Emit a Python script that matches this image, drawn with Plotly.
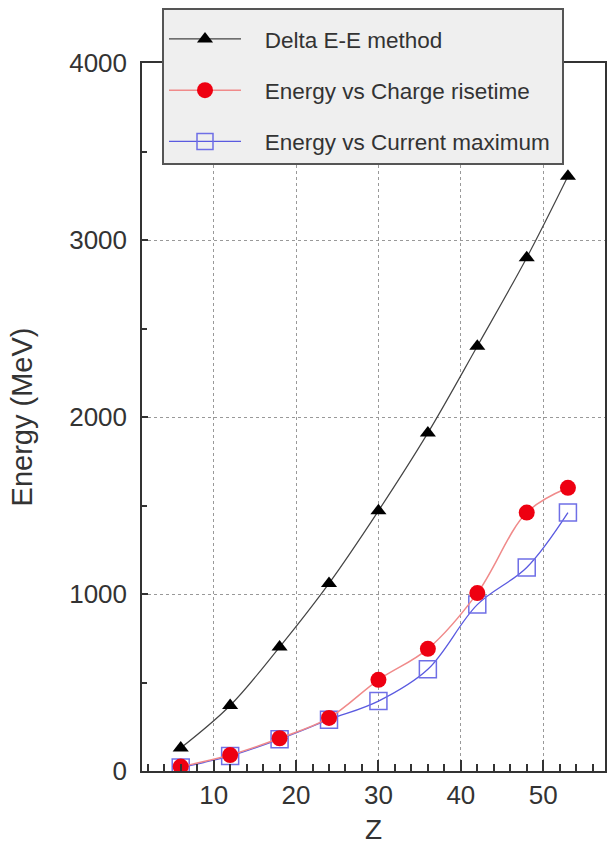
import plotly.graph_objects as go

z_vals = [6, 12, 18, 24, 30, 36, 42, 48, 53]
delta_e = [130, 370, 700, 1060, 1470, 1910, 2400, 2900, 3360]
charge_rise = [25, 90, 185, 300, 515, 690, 1005, 1460, 1600]
current_max = [20, 85, 180, 290, 395, 575, 940, 1150, 1460]

x_ticks = [10, 20, 30, 40, 50]
y_ticks = [0, 1000, 2000, 3000, 4000]

FONT = "Liberation Sans, Arial, sans-serif"
PAD = "\u00a0\u00a0\u00a0"

fig = go.Figure()
fig.add_trace(go.Scatter(
    x=z_vals, y=delta_e, name=PAD + "Delta E-E method", mode="lines+markers",
    line=dict(color="#444444", width=1.2, shape="spline"),
    marker=dict(symbol="triangle-up", size=14, color="black"),
    legendrank=1, legendgroup="a"))
fig.add_trace(go.Scatter(
    x=z_vals, y=current_max, name=PAD + "Energy vs Current maximum\u00a0", mode="lines+markers",
    line=dict(color="#5a5ae0", width=1.3, shape="spline"),
    marker=dict(symbol="square-open", size=17, color="#6f6fe6", line=dict(width=1.5)),
    legendrank=3, legendgroup="c"))
fig.add_trace(go.Scatter(
    x=z_vals, y=charge_rise, name=PAD + "Energy vs Charge risetime", mode="lines+markers",
    line=dict(color="#f08a8a", width=1.5, shape="spline"),
    marker=dict(symbol="circle", size=16, color="#ee0011"),
    legendrank=2, legendgroup="b"))

fig.update_layout(
    width=607, height=857,
    margin=dict(l=142, r=2, t=63, b=86),
    paper_bgcolor="white", plot_bgcolor="white",
    font=dict(family=FONT, color="#333333"),
    legend=dict(
        x=(162 - 142) / 463, y=(771 - 8) / 708, xanchor="left", yanchor="top",
        bgcolor="#efefef", bordercolor="#555555", borderwidth=2,
        font=dict(size=22.5, color="#333333"), itemwidth=72,
        tracegroupgap=19, traceorder="grouped",
        title=dict(text=" ", font=dict(size=6))),
    xaxis=dict(
        range=[1.3, 57.5], tickvals=x_ticks, ticks="inside", ticklen=11,
        tickcolor="#333333", tickwidth=1.5,
        minor=dict(dtick=2, tick0=0, ticks="inside", ticklen=7, tickcolor="#333333", showgrid=False),
        showgrid=True, gridcolor="#999999", griddash="dot", gridwidth=1,
        showline=True, linecolor="#333333", linewidth=1.5, mirror=True,
        zeroline=False, tickfont=dict(size=26, color="#333333"),
        title=dict(text="Z", font=dict(size=28, color="#333333"), standoff=10),
        automargin=False),
    yaxis=dict(
        range=[0, 4000], tickvals=y_ticks, ticks="inside", ticklen=6,
        tickcolor="#333333", tickwidth=1.5,
        minor=dict(dtick=500, tick0=0, ticks="inside", ticklen=5, tickcolor="#333333", showgrid=False),
        showgrid=True, gridcolor="#999999", griddash="dot", gridwidth=1,
        showline=True, linecolor="#333333", linewidth=1.5, mirror=True,
        zeroline=False, tickfont=dict(size=26, color="#333333"),
        ticklabelstandoff=8,
        title=dict(text="Energy (MeV)", font=dict(size=29, color="#333333"), standoff=28),
        automargin=False),
)

fig.write_html("out.html")
